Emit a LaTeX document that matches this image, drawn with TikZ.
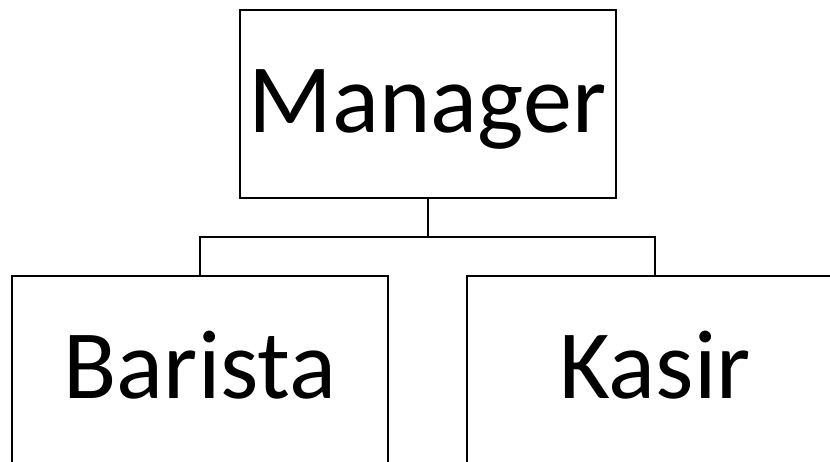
\documentclass[tikz,border=0pt]{standalone}
\usepackage{fontspec}
\setmainfont{Carlito}
\begin{document}
\begin{tikzpicture}[x=1pt,y=-1pt,
  orgbox/.style={draw=black,line width=2pt,fill=white,minimum width=376pt,minimum height=188pt,
    inner sep=0pt,font=\fontsize{98}{98}\selectfont,text height=57pt,text depth=0pt},
  link/.style={draw=black,line width=2pt}]
\useasboundingbox (0,0) rectangle (830,462);
\clip (0,0) rectangle (830,462);
\node[orgbox] (manager) at (427.5,104) {Manager};
\node[orgbox] (barista) at (200,370) {Barista};
\node[orgbox] (kasir) at (655,370) {Kasir};
\coordinate (split) at (427.5,237);
\draw[link] (manager.south) -- (split);
\draw[link] (barista.north) |- (split) -| (kasir.north);
\end{tikzpicture}
\end{document}
